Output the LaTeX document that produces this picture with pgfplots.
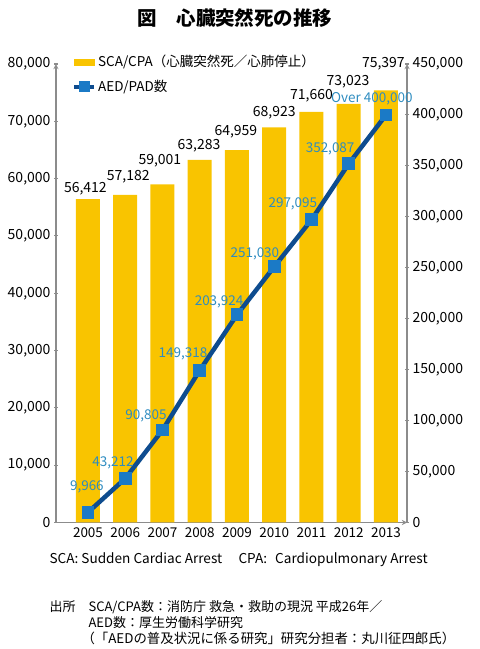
\documentclass[border=0pt]{standalone}
\usepackage{fontspec}
\setmainfont{Noto Sans CJK JP}
\usepackage{pgfplots}
\pgfplotsset{compat=1.18}

\definecolor{barY}{HTML}{F9C400}
\definecolor{aedLine}{HTML}{0E4C8F}
\definecolor{aedMark}{HTML}{1B7AC6}
\definecolor{aedText}{HTML}{2E8CC0}
\definecolor{axGray}{HTML}{8C8C8C}

\newcommand{\fs}[1]{\fontsize{#1}{#1}\selectfont}

\pgfplotsset{
  chartbase/.style={
    scale only axis, width=351pt, height=458.5pt,
    at={(56pt,126.5pt)}, anchor=south west,
    xmin=2004.141, xmax=2013.564, ymin=0,
    clip=false,
    scaled y ticks=false, scaled x ticks=false,
    /pgf/number format/fixed,
    /pgf/number format/assume math mode=true,
    tick align=outside, major tick length=4pt,
    axis line style={-, draw=axGray, line width=1.3pt},
    major y tick style={draw=axGray, line width=1.1pt},
    major x tick style={draw=none},
    ticklabel style={font=\fs{14pt}, text=black},
    xticklabel style={font=\fs{13.5pt}},
  }
}

\begin{document}
\begin{tikzpicture}[x=1pt,y=1pt]
\path[use as bounding box] (0,0) rectangle (480,649);

% title
\node[font=\fs{19.5pt}\bfseries] at (235,631) {図　心臓突然死の推移};

% left axis: SCA/CPA bars
\begin{axis}[chartbase,
    ymax=80000,
    axis x line=bottom, axis y line=left,
    xtick={2005,2006,2007,2008,2009,2010,2011,2012,2013},
    xticklabels={2005,2006,2007,2008,2009,2010,2011,2012,2013},
    ytick={0,10000,...,80000},
]
\addplot[ybar, bar width=24pt, fill=barY, draw=none] coordinates {
  (2005,56412) (2006,57182) (2007,59001) (2008,63283) (2009,64959)
  (2010,68923) (2011,71660) (2012,73023) (2013,75397)
};
% value labels above the bars (label centre, shown value)
\addplot[draw=none, mark=none, nodes near coords, point meta=explicit,
  every node near coord/.append style={anchor=center, font=\fs{14pt}, text=black, inner sep=0pt}]
  coordinates {
  (2004.93,58190) [56412] (2006.08,60284) [57182] (2006.93,63075) [59001]
  (2007.98,65693) [63283] (2008.97,68222) [64959] (2010,71450) [68923]
  (2011,74417) [71660] (2011.98,76860) [73023] (2012.93,80000) [75397]
};
\end{axis}

% right axis: AED/PAD
\begin{axis}[chartbase,
    ymax=450000,
    axis x line=none, axis y line=right,
    ytick={0,50000,...,450000},
    legend style={draw=none, fill=none, at={(0,1)}, anchor=north west,
      xshift=13pt, yshift=13pt, font=\fs{13.5pt}, row sep=8pt},
    legend cell align=left,
]
\addlegendimage{legend image code/.code={\fill[barY] (0pt,-3pt) rectangle (20pt,3pt);}}
\addlegendentry{SCA/CPA（心臓突然死／心肺停止）}
\addlegendimage{legend image code/.code={
  \draw[aedLine, line width=4pt] (0pt,0pt) -- (20pt,0pt);
  \fill[aedMark] (5pt,-5pt) rectangle (15pt,5pt);}}
\addlegendentry{AED/PAD数}

\addplot[forget plot, aedLine, line width=4.5pt, mark=square*, mark size=5.8pt,
  mark options={fill=aedMark, draw=aedMark, line width=0pt}] coordinates {
  (2005,9966) (2006,43212) (2007,90805) (2008,149318) (2009,203924)
  (2010,251030) (2011,297095) (2012,352087) (2013,400000)
};
% labels beside the markers
\addplot[forget plot, draw=none, mark=none, nodes near coords, point meta=explicit,
  every node near coord/.append style={anchor=center, font=\fs{13.5pt}, text=aedText, inner sep=0pt}]
  coordinates {
  (2004.97,34842) [9966] (2005.67,58397) [43212] (2006.56,104526) [90805]
  (2007.55,165376) [149318] (2008.52,216412) [203924] (2009.48,263522) [251030]
  (2010.50,312595) [297095] (2011.50,366576) [352087]
};
\addplot[forget plot, draw=none, mark=none, nodes near coords, point meta=explicit symbolic,
  every node near coord/.append style={anchor=center, font=\fs{13.5pt}, text=aedText, inner sep=0pt}]
  coordinates {(2012.62,415649) [{Over 400,000}]};
\end{axis}

% notes below the chart
\node[anchor=west, font=\fs{13.6pt}] at (46,89)
  {SCA: Sudden Cardiac Arrest\hspace{1.2em}CPA:\hspace{0.6em}Cardiopulmonary Arrest};
\node[anchor=west, font=\fs{13pt}] at (46,42) {出所};
\node[anchor=west, font=\fs{13pt}] at (85,42) {SCA/CPA数：消防庁 救急・救助の現況 平成26年／};
\node[anchor=west, font=\fs{13pt}] at (85,26) {AED数：厚生労働科学研究};
\node[anchor=west, font=\fs{13.4pt}] at (78,11) {（「AEDの普及状況に係る研究」研究分担者：丸川征四郎氏）};
\end{tikzpicture}
\end{document}
